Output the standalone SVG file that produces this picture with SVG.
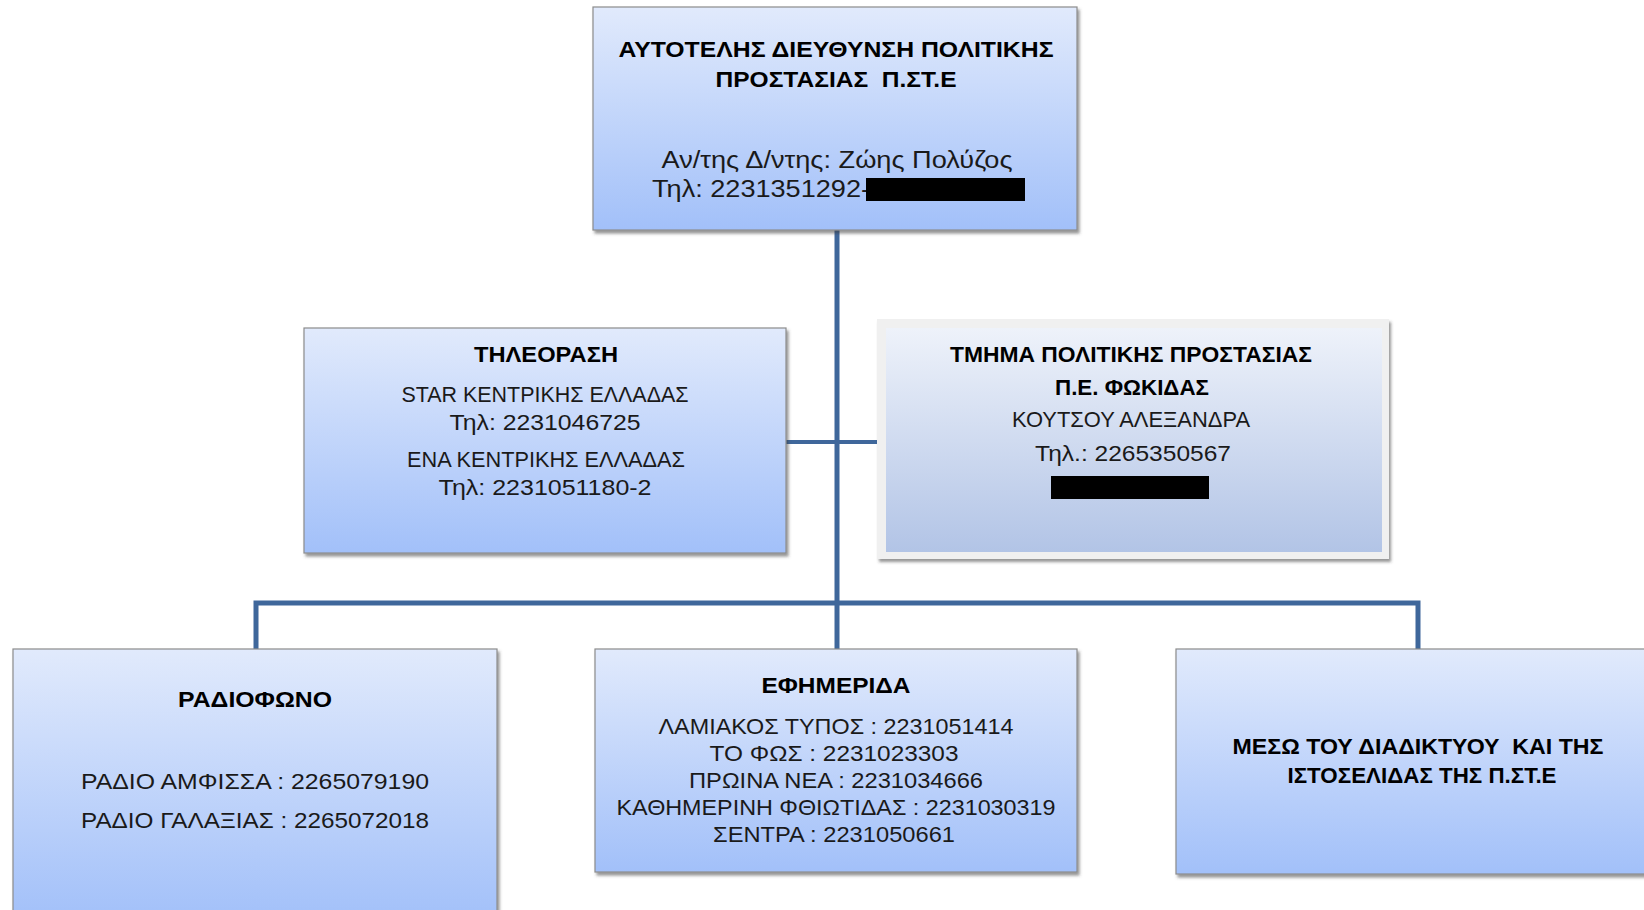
<svg xmlns="http://www.w3.org/2000/svg" width="1644" height="910" viewBox="0 0 1644 910">
<defs>
<linearGradient id="gBlue" x1="0" y1="0" x2="0" y2="1">
<stop offset="0" stop-color="#e1eafc"/>
<stop offset="1" stop-color="#a2c0f9"/>
</linearGradient>
<linearGradient id="gGrey" x1="0" y1="0" x2="0" y2="1">
<stop offset="0" stop-color="#eef2fa"/>
<stop offset="1" stop-color="#b2c4e6"/>
</linearGradient>
<filter id="sh" x="-5%" y="-5%" width="112%" height="115%">
<feDropShadow dx="2" dy="3" stdDeviation="1.5" flood-color="#404040" flood-opacity="0.55"/>
</filter>
</defs>
<style>
.box{fill:url(#gBlue);stroke:#8c8c8c;stroke-width:1.2;filter:url(#sh)}
.t{font-family:"Liberation Sans",Arial,sans-serif;font-size:22px;fill:#1a1a1a;text-anchor:middle}
.b{font-weight:bold;fill:#000}
.s{text-anchor:start}
.con{fill:none;stroke:#3f679b;stroke-width:5;stroke-linejoin:miter}
.red{fill:#000}
</style>
<rect width="1644" height="910" fill="#fff"/>
<g id="connectors">
<path class="con" d="M837 230 V603"/>
<path class="con" d="M256 649 V603 H1418 V649"/>
<path class="con" d="M837 603 V649"/>
<path class="con" style="stroke-width:4" d="M786 442 H878"/>
</g>
<g id="n_top">
<rect class="box" x="593" y="7" width="484" height="223"/>
<text class="t b" x="836" y="57" textLength="435" lengthAdjust="spacingAndGlyphs">ΑΥΤΟΤΕΛΗΣ ΔΙΕΥΘΥΝΣΗ ΠΟΛΙΤΙΚΗΣ</text>
<text class="t b" x="836" y="87" textLength="241" lengthAdjust="spacingAndGlyphs" xml:space="preserve">ΠΡΟΣΤΑΣΙΑΣ  Π.ΣΤ.Ε</text>
<text class="t" x="837" y="168" style="font-size:23px" textLength="351" lengthAdjust="spacingAndGlyphs">Αν/της Δ/ντης: Ζώης Πολύζος</text>
<text class="t s" x="652" y="197" style="font-size:23px" textLength="218" lengthAdjust="spacingAndGlyphs">Τηλ: 2231351292-</text>
<rect class="red" x="866" y="178" width="159" height="23"/>
</g>
<g id="n_tv">
<rect class="box" x="304" y="328" width="482" height="225"/>
<text class="t b" x="546" y="362" textLength="144" lengthAdjust="spacingAndGlyphs">ΤΗΛΕΟΡΑΣΗ</text>
<text class="t" x="545" y="402" textLength="287" lengthAdjust="spacingAndGlyphs">STAR ΚΕΝΤΡΙΚΗΣ ΕΛΛΑΔΑΣ</text>
<text class="t" x="545" y="430" textLength="191" lengthAdjust="spacingAndGlyphs">Τηλ: 2231046725</text>
<text class="t" x="546" y="467" textLength="278" lengthAdjust="spacingAndGlyphs">ΕΝΑ ΚΕΝΤΡΙΚΗΣ ΕΛΛΑΔΑΣ</text>
<text class="t" x="545" y="495" textLength="213" lengthAdjust="spacingAndGlyphs">Τηλ: 2231051180-2</text>
</g>
<g id="n_fokida">
<rect x="877" y="319" width="512" height="240" fill="#f0f0f0" style="filter:url(#sh)"/>
<rect x="886" y="328" width="496" height="224" fill="url(#gGrey)"/>
<text class="t b" x="1131" y="362" textLength="362" lengthAdjust="spacingAndGlyphs">ΤΜΗΜΑ ΠΟΛΙΤΙΚΗΣ ΠΡΟΣΤΑΣΙΑΣ</text>
<text class="t b" x="1132" y="395" textLength="154" lengthAdjust="spacingAndGlyphs">Π.Ε. ΦΩΚΙΔΑΣ</text>
<text class="t" x="1131" y="427" textLength="238" lengthAdjust="spacingAndGlyphs">ΚΟΥΤΣΟΥ ΑΛΕΞΑΝΔΡΑ</text>
<text class="t" x="1133" y="461" textLength="196" lengthAdjust="spacingAndGlyphs">Τηλ.: 2265350567</text>
<rect class="red" x="1051" y="476" width="158" height="23"/>
</g>
<g id="n_radio">
<rect class="box" x="13" y="649" width="484" height="272"/>
<text class="t b" x="255" y="707" textLength="154" lengthAdjust="spacingAndGlyphs">ΡΑΔΙΟΦΩΝΟ</text>
<text class="t" x="255" y="789" textLength="348" lengthAdjust="spacingAndGlyphs">ΡΑΔΙΟ ΑΜΦΙΣΣΑ : 2265079190</text>
<text class="t" x="255" y="828" textLength="348" lengthAdjust="spacingAndGlyphs">ΡΑΔΙΟ ΓΑΛΑΞΙΑΣ : 2265072018</text>
</g>
<g id="n_efimerida">
<rect class="box" x="595" y="649" width="482" height="223"/>
<text class="t b" x="836" y="693" textLength="149" lengthAdjust="spacingAndGlyphs">ΕΦΗΜΕΡΙΔΑ</text>
<text class="t" x="836" y="734" textLength="355" lengthAdjust="spacingAndGlyphs">ΛΑΜΙΑΚΟΣ ΤΥΠΟΣ : 2231051414</text>
<text class="t" x="834" y="761" textLength="249" lengthAdjust="spacingAndGlyphs">ΤΟ ΦΩΣ : 2231023303</text>
<text class="t" x="836" y="788" textLength="294" lengthAdjust="spacingAndGlyphs">ΠΡΩΙΝΑ ΝΕΑ : 2231034666</text>
<text class="t" x="836" y="815" textLength="439" lengthAdjust="spacingAndGlyphs">ΚΑΘΗΜΕΡΙΝΗ ΦΘΙΩΤΙΔΑΣ : 2231030319</text>
<text class="t" x="834" y="842" textLength="242" lengthAdjust="spacingAndGlyphs">ΣΕΝΤΡΑ : 2231050661</text>
</g>
<g id="n_internet">
<rect class="box" x="1176" y="649" width="484" height="225"/>
<text class="t b" x="1418" y="754" textLength="371" lengthAdjust="spacingAndGlyphs" xml:space="preserve">ΜΕΣΩ ΤΟΥ ΔΙΑΔΙΚΤΥΟΥ  ΚΑΙ ΤΗΣ</text>
<text class="t b" x="1422" y="783" textLength="269" lengthAdjust="spacingAndGlyphs">ΙΣΤΟΣΕΛΙΔΑΣ ΤΗΣ Π.ΣΤ.Ε</text>
</g>
</svg>
